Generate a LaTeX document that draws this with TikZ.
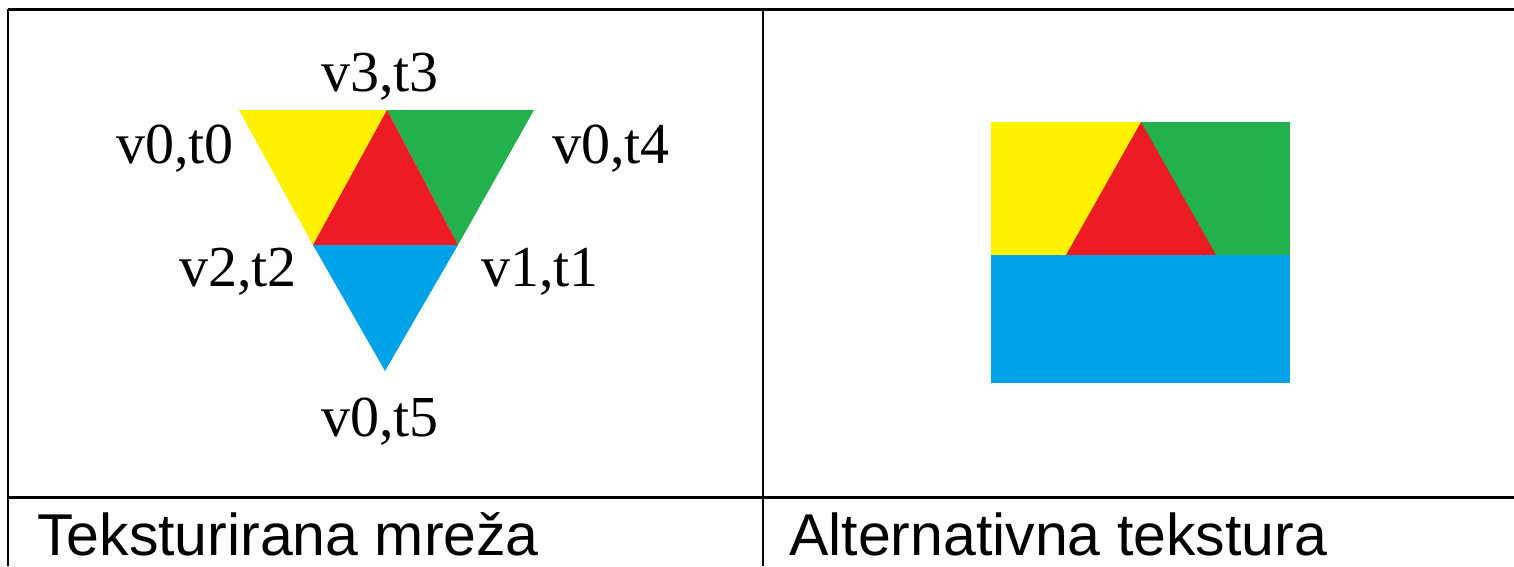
\documentclass[tikz,border=0pt]{standalone}
\usepackage{fontspec}
\setmainfont{Liberation Serif}
\newfontfamily\capfont{Liberation Sans}
\definecolor{cy}{RGB}{255,242,0}
\definecolor{cg}{RGB}{34,177,76}
\definecolor{cr}{RGB}{237,28,36}
\definecolor{cb}{RGB}{0,162,232}
\tikzset{
 lab/.style={inner sep=0pt,font=\fontsize{58}{58}\selectfont,anchor=base},
 captext/.style={inner sep=0pt,font=\capfont\fontsize{59}{59}\selectfont,anchor=base west},
 tablerule/.style={line width=3pt,black},
 thinrule/.style={line width=1.8pt,black}
}
\begin{document}
\begin{tikzpicture}[x=1pt,y=-1pt]
\useasboundingbox (0,0) rectangle (1514,566);
\fill[white] (0,0) rectangle (1514,566);
% mesh
\fill[cy] (239,110) -- (387,110) -- (313,245) -- cycle;
\fill[cg] (387,110) -- (534,110) -- (458,245) -- cycle;
\fill[cr] (387,110) -- (458,245) -- (313,245) -- cycle;
\fill[cb] (313,245) -- (458,245) -- (385,371) -- cycle;
% texture
\fill[cy] (991,122) rectangle (1141,255);
\fill[cg] (1141,122) rectangle (1290,255);
\fill[cr] (1141,122) -- (1216,255) -- (1066,255) -- cycle;
\fill[cb] (991,255) rectangle (1290,383);
% table
\coordinate (tl) at (8,9); \coordinate (tr) at (1514,9);
\coordinate (ml) at (8,497); \coordinate (mr) at (1514,497);
\coordinate (bl) at (8,566); \coordinate (tm) at (763,9); \coordinate (bm) at (763,566);
\draw[tablerule] (tl) -- (tr);
\draw[tablerule] (ml) -- (mr);
\draw[thinrule] (tl) -- (bl);
\draw[thinrule] (tm) -- (bm);
% labels
\node[lab] (a) at (380,91) {v3,t3};
\node[lab] (b) at (175,163) {v0,t0};
\node[lab] (c) at (611,163) {v0,t4};
\node[lab] (d) at (238,286) {v2,t2};
\node[lab] (e) at (540,286) {v1,t1};
\node[lab] (f) at (380,436) {v0,t5};
\node[captext] (g) at (37,555) {Teksturirana mreža};
\node[captext] (h) at (789,555) {Alternativna tekstura};
\end{tikzpicture}
\end{document}
